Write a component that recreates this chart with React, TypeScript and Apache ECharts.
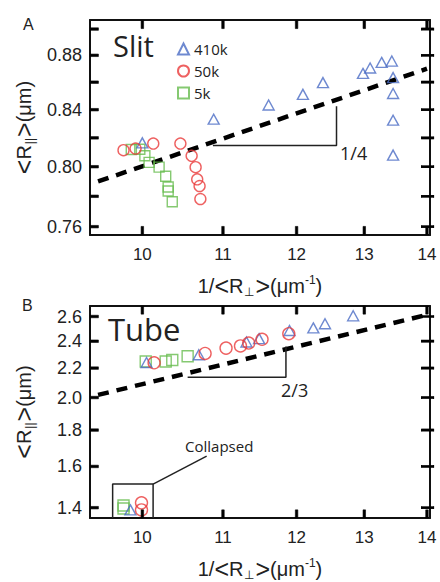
import React, { useEffect, useRef } from "react";
import * as echarts from "echarts";

const X_TICKS = [10, 11, 12, 13, 14];
const A_Y_TICKS = [0.76, 0.78, 0.8, 0.82, 0.84, 0.86, 0.88, 0.9];
const A_Y_LABELS = [0.76, 0.8, 0.84, 0.88];
const B_Y_TICKS = [1.4, 1.6, 1.8, 2.0, 2.2, 2.4, 2.6];
const X_RANGE = [9.4, 14.05];
const A_Y_RANGE = [0.7546, 0.907];
const B_Y_RANGE = [1.354, 2.69];

const slit410k = [[10.0, 0.8165], [10.88, 0.8332], [11.61, 0.8434], [12.09, 0.8511], [12.38, 0.8597], [12.98, 0.8665], [13.09, 0.8705], [13.27, 0.8747], [13.43, 0.8757], [13.45, 0.8634], [13.45, 0.8517], [13.45, 0.8325], [13.45, 0.808]];
const slit50k = [[9.78, 0.8114], [9.92, 0.8125], [10.13, 0.816], [10.46, 0.816], [10.6, 0.8075], [10.65, 0.7997], [10.67, 0.7914], [10.7, 0.7869], [10.71, 0.7782]];
const slit5k = [[9.87, 0.8119], [9.97, 0.812], [10.03, 0.8075], [10.08, 0.803], [10.2, 0.7997], [10.28, 0.7935], [10.31, 0.7862], [10.31, 0.7835], [10.36, 0.7764]];

const tube410k = [[10.05, 2.24], [10.69, 2.297], [11.31, 2.394], [11.48, 2.42], [11.9, 2.485], [12.24, 2.506], [12.41, 2.54], [12.83, 2.606], [9.86, 1.39]];
const tube50k = [[10.14, 2.238], [10.77, 2.307], [11.04, 2.347], [11.23, 2.364], [11.34, 2.386], [11.52, 2.415], [11.89, 2.459], [9.99, 1.422], [9.99, 1.39]];
const tube5k = [[10.04, 2.247], [10.28, 2.247], [10.36, 2.259], [10.55, 2.286], [9.78, 1.396], [9.78, 1.41]];

const slitFit = [[9.49, 0.79], [14.0, 0.87]];
const tubeFit = [[9.49, 2.017], [14.0, 2.614]];
const slitSlope = [[10.87, 0.8147], [12.58, 0.8147], [12.58, 0.8425]];
const tubeSlope = [[10.55, 2.135], [11.85, 2.135], [11.85, 2.359]];
const collapsedBox = [[9.655, 1.354], [9.655, 1.511], [10.128, 1.511], [10.128, 1.354]];
const collapsedLeader = [[10.128, 1.511], [10.79, 1.654]];

const BLUE = "#4a6cc4";
const RED = "#ea3a3a";
const GREEN = "#66bb4e";
const SANS = "Liberation Sans, Arial, sans-serif";
const MYR = "Open Sans, sans-serif";
const INK = "#222";
const TICK = "#000";

const richName = () => ({
  b: { fontSize: 25, fontFamily: SANS, color: INK },
  sub: { fontSize: 12, fontFamily: SANS, color: INK, padding: [12, 1, 0, 1] },
  sup: { fontSize: 12, fontFamily: SANS, color: INK, padding: [0, 0, 11, 0] },
});

const ts = () => ({ color: "#111", width: 2 });

function xAxes(grid: number) {
  return [
    {
      type: "log", gridIndex: grid, min: X_RANGE[0], max: X_RANGE[1], position: "bottom",
      splitLine: { show: false },
      axisLine: { show: true, lineStyle: ts() },
      axisTick: { show: false },
      axisLabel: { customValues: X_TICKS.slice(), fontSize: 17, margin: 11, color: INK, fontFamily: SANS, formatter: (v: number) => String(Math.round(v)) },
      name: "1/{b|<}R{sub|⊥}{b|>}(μm{sup|-1})",
      nameLocation: "middle", nameGap: 38,
      nameTextStyle: { fontSize: 20, color: INK, fontFamily: SANS, rich: richName() },
    },
    {
      type: "log", gridIndex: grid, min: X_RANGE[0], max: X_RANGE[1], position: "top",
      splitLine: { show: false },
      axisLine: { show: true, lineStyle: ts() },
      axisTick: { show: false },
      axisLabel: { show: false },
    },
  ];
}

function yAxes(grid: number, range: number[], labels: number[], digits: number) {
  return [
    {
      type: "log", gridIndex: grid, min: range[0], max: range[1], position: "left",
      splitLine: { show: false },
      axisLine: { show: true, lineStyle: ts() },
      axisTick: { show: false },
      axisLabel: { customValues: labels.slice(), fontSize: 18, margin: 8, color: INK, fontFamily: SANS, formatter: (v: number) => v.toFixed(digits) },
      name: "{b|<}R{sub|||}{b|>}(μm)", nameLocation: "middle", nameGap: 54,
      nameTextStyle: { fontSize: 20, color: INK, fontFamily: SANS, rich: richName() },
    },
    {
      type: "log", gridIndex: grid, min: range[0], max: range[1], position: "right",
      splitLine: { show: false },
      axisLine: { show: true, lineStyle: ts() },
      axisTick: { show: false },
      axisLabel: { show: false },
    },
  ];
}

// tick marks: short bars positioned on the frame through the axes' own log scales
function tickMarks(xi: number, yi: number, yRange: number[], yTicks: number[]) {
  const mk = (data: number[][], size: number[], offset: number[]) => ({
    type: "scatter", data, symbol: "rect", symbolSize: size, symbolOffset: offset,
    xAxisIndex: xi, yAxisIndex: yi, silent: true, clip: false, z: 10,
    itemStyle: { color: TICK, borderColor: TICK, borderWidth: 0.5, opacity: 1 },
  });
  return [
    mk(yTicks.map((v) => [X_RANGE[0] * 1.0005, v]), [8, 2.5], [4, 0]),
    mk(yTicks.map((v) => [X_RANGE[1] * 0.9995, v]), [12, 2.5], [-2, 0]),
    mk(X_TICKS.map((v) => [v, yRange[0] * 1.0005]), [2.5, 8], [0, -4]),
    mk(X_TICKS.map((v) => [v, yRange[1] * 0.9995]), [2.5, 8], [0, 4]),
  ];
}

function scatter(name: string, data: number[][], symbol: string, color: string, xi: number, yi: number, size: any) {
  return {
    type: "scatter", name, data, symbol, symbolSize: size, xAxisIndex: xi, yAxisIndex: yi,
    itemStyle: { color: "rgba(0,0,0,0)", borderColor: color, borderWidth: 1.4 },
    z: 3,
  };
}

function line(data: number[][], xi: number, yi: number, style: any) {
  return {
    type: "line", data, xAxisIndex: xi, yAxisIndex: yi, symbol: "none", silent: true,
    lineStyle: style, z: 2,
  };
}

export default function App() {
  const ref = useRef<HTMLDivElement>(null);
  useEffect(() => {
    document.body.style.margin = "0";
    const chart = echarts.init(ref.current!, null, { renderer: "svg" });
    const dash = () => ({ color: "#000", width: 4.5, type: [11, 8] });
    const thin = () => ({ color: INK, width: 1.5 });
    chart.setOption({
      animation: false,
      backgroundColor: "#fff",
      grid: [
        { left: 90, top: 20, width: 340, height: 215, show: false },
        { left: 90, top: 306, width: 340, height: 216, show: false },
      ],
      xAxis: [...xAxes(0), ...xAxes(1)],
      yAxis: [
        ...yAxes(0, A_Y_RANGE, A_Y_LABELS, 2),
        ...yAxes(1, B_Y_RANGE, B_Y_TICKS, 1),
      ],
      legend: {
        data: [
          { name: "410k", icon: "triangle" },
          { name: "50k", icon: "circle" },
          { name: "5k", icon: "rect" },
        ],
        orient: "vertical", left: 172, top: 36, itemWidth: 11, itemHeight: 11, itemGap: 6,
        selectedMode: false,
        textStyle: { fontSize: 15, fontFamily: MYR, color: INK, lineHeight: 16 },
      },
      series: [
        line(slitFit, 0, 0, dash()),
        line(slitSlope, 0, 0, thin()),
        scatter("5k", slit5k, "rect", GREEN, 0, 0, 10),
        scatter("410k", slit410k, "triangle", BLUE, 0, 0, [11, 10]),
        scatter("50k", slit50k, "circle", RED, 0, 0, 11),
        line(tubeFit, 2, 2, dash()),
        line(tubeSlope, 2, 2, thin()),
        line(collapsedBox, 2, 2, thin()),
        line(collapsedLeader, 2, 2, thin()),
        scatter("5k", tube5k, "rect", GREEN, 2, 2, 11),
        scatter("410k", tube410k, "triangle", BLUE, 2, 2, [11, 10]),
        scatter("50k", tube50k, "circle", RED, 2, 2, 12),
        ...tickMarks(0, 0, A_Y_RANGE, A_Y_TICKS),
        ...tickMarks(2, 2, B_Y_RANGE, B_Y_TICKS),
      ],
      graphic: [
        { type: "text", left: 23, top: 16, style: { text: "A", fontSize: 16, fontFamily: SANS, fill: INK } },
        { type: "text", left: 22, top: 297, style: { text: "B", fontSize: 16, fontFamily: SANS, fill: INK } },
        { type: "text", left: 113, top: 31, style: { text: "Slit", fontSize: 29, fontFamily: MYR, fill: INK } },
        { type: "text", left: 108, top: 313, style: { text: "Tube", fontSize: 31, fontFamily: MYR, fill: INK } },
        { type: "text", left: 340, top: 144, style: { text: "1/4", fontSize: 18, fontFamily: MYR, fill: INK } },
        { type: "text", left: 281, top: 381, style: { text: "2/3", fontSize: 18, fontFamily: MYR, fill: INK } },
        { type: "text", left: 185, top: 438, style: { text: "Collapsed", fontSize: 15, fontFamily: MYR, fill: INK } },
      ],
    });
    return () => chart.dispose();
  }, []);
  return <div ref={ref} style={{ width: 440, height: 582 }} />;
}
